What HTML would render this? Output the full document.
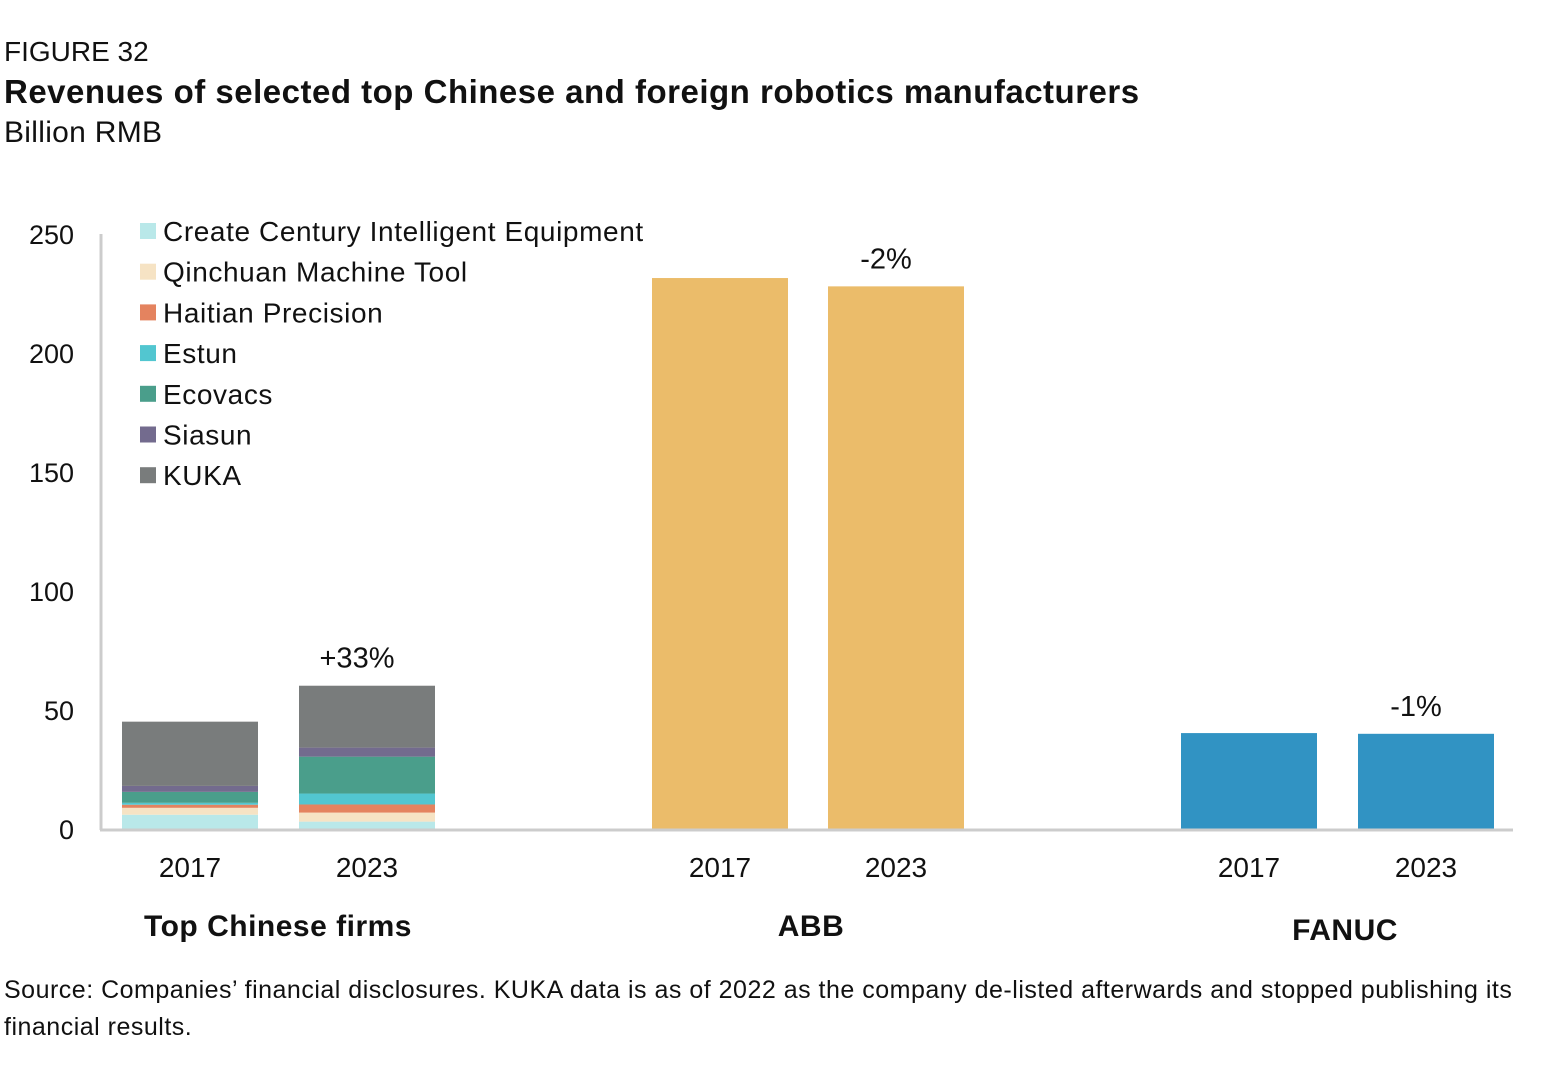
<!DOCTYPE html>
<html><head><meta charset="utf-8"><style>
body{margin:0;background:#fff;font-family:"Liberation Sans",sans-serif;color:#111;}
.t{position:absolute;white-space:nowrap}
</style></head><body>
<div style="position:relative;width:1558px;height:1069px;overflow:hidden">
<div class="t" style="left:4px;top:36px;font-size:28px">FIGURE 32</div>
<div class="t" style="left:4px;top:73px;font-size:33px;font-weight:bold;letter-spacing:0.5px">Revenues of selected top Chinese and foreign robotics manufacturers</div>
<div class="t" style="left:4px;top:116px;font-size:30px;letter-spacing:0.3px">Billion RMB</div>
<svg id="c" width="1558" height="1069" style="position:absolute;left:0;top:0"></svg>
<div class="t" style="left:4px;top:972px;font-size:25px;letter-spacing:0.5px;line-height:37px;white-space:normal;width:1550px">Source: Companies’ financial disclosures. KUKA data is as of 2022 as the company de-listed afterwards and stopped publishing its financial results.</div>
</div>
<script>
const series=["Create Century Intelligent Equipment","Qinchuan Machine Tool","Haitian Precision","Estun","Ecovacs","Siasun","KUKA"];
const colors=["#b9e8e9","#f6e3c4","#e4835f","#52c6d0","#4a9e8b","#736b8e","#797c7c"];
const stack2017=[6.0,2.9,1.3,0.8,4.6,2.5,27.0];
const stack2023=[3.1,3.8,3.4,4.6,15.5,3.8,26.0];
const abb=[231.5,228];
const fanuc=[40.3,40];
const yTicks=[0,50,100,150,200,250];
const changeLabels=["+33%","-2%","-1%"];
const years=["2017","2023"];
const groups=["Top Chinese firms","ABB","FANUC"];
const svg=document.getElementById('c');
const NS='http://www.w3.org/2000/svg';
const y=v=>829-v*2.38;
function el(t,a,txt){const e=document.createElementNS(NS,t);for(const k in a)e.setAttribute(k,a[k]);if(txt!=null)e.textContent=txt;svg.appendChild(e);return e;}
yTicks.forEach(v=>{const e=el('text',{x:74,y:y(v)+10,'text-anchor':'end','font-size':27,fill:'#111'},v);

});
const barX=[[122,299],[652,828],[1181,1358]],bw=136;
function bar(x,v0,v1,c,n){const r=el('rect',{x:x,y:y(v1),width:bw,height:y(v0)-y(v1),fill:c});

}
[stack2017,stack2023].forEach((s,i)=>{let acc=0;s.forEach((v,j)=>{bar(barX[0][i],acc,acc+v,colors[j],'bar-'+series[j].toLowerCase().replace(/ /g,'-')+'-'+years[i]);acc+=v;});});
abb.forEach((v,i)=>bar(barX[1][i],0,v,'#ebbc6a','bar-abb-'+years[i]));
fanuc.forEach((v,i)=>bar(barX[2][i],0,v,'#3193c3','bar-fanuc-'+years[i]));
const tops=[stack2023.reduce((a,b)=>a+b,0),abb[1],fanuc[1]];
tops.forEach((v,g)=>{const e=el('text',{x:barX[g][1]+bw/2-10,y:y(v)-18,'text-anchor':'middle','font-size':29,fill:'#111'},changeLabels[g]);

});
barX.forEach((xs,g)=>{xs.forEach((x,i)=>{const e=el('text',{x:x+bw/2,y:877,'text-anchor':'middle','font-size':28,fill:'#111'},years[i]);

});
const e=el('text',{x:[278,811,1345][g],y:[936,936,940][g],'text-anchor':'middle','font-size':30,'font-weight':'bold','letter-spacing':0.5,fill:'#111'},groups[g]);

});
const ax=el('line',{x1:101,y1:234,x2:101,y2:830,stroke:'#ccc','stroke-width':3});


const bx=el('line',{x1:100,y1:830,x2:1513,y2:830,stroke:'#ccc','stroke-width':3});


series.forEach((s,i)=>{const yy=231+i*40.7;
const r=el('rect',{x:140,y:yy-8,width:16,height:16,fill:colors[i]});


const t=el('text',{x:163,y:yy+10,'font-size':28,'letter-spacing':0.6,fill:'#111'},s);

});
</script>
</body></html>
